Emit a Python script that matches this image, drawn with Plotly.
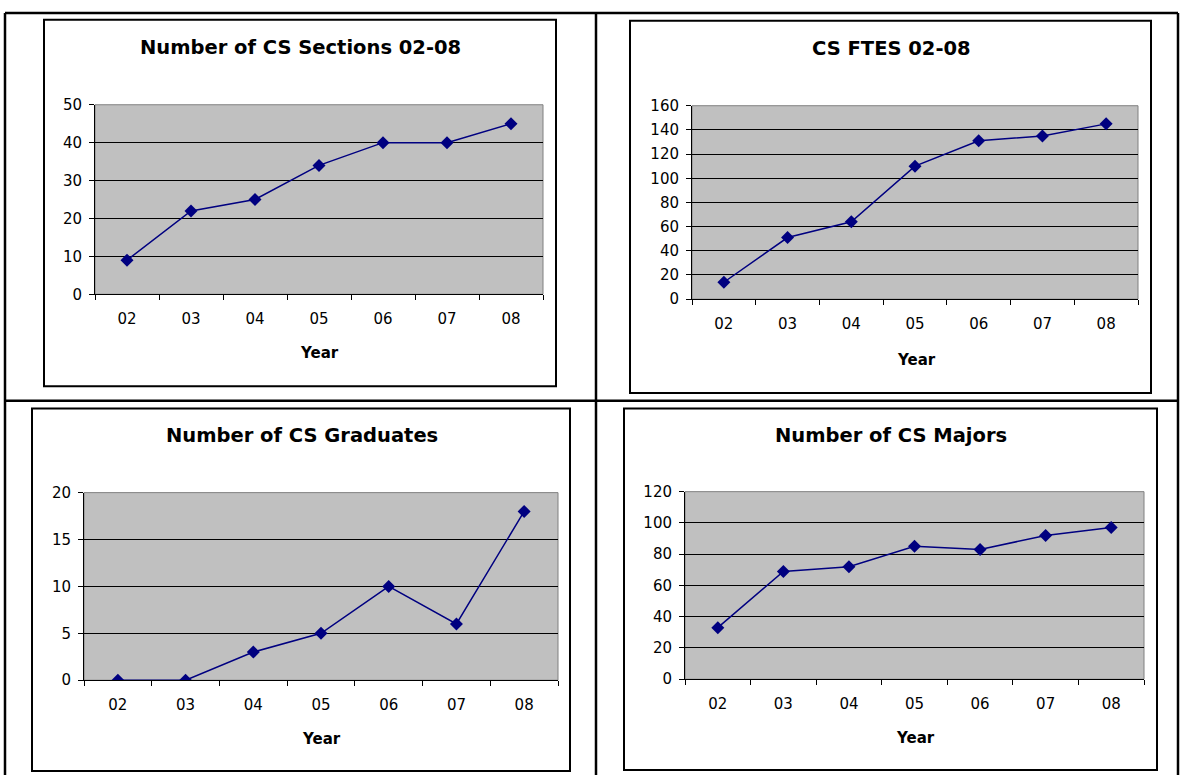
import plotly.graph_objects as go

# ---------------- data ----------------
years = ["02", "03", "04", "05", "06", "07", "08"]
sections = [9, 22, 25, 34, 40, 40, 45]
ftes = [14, 51, 64, 110, 131, 135, 145]
graduates = [0, 0, 3, 5, 10, 6, 18]
majors = [33, 69, 72, 85, 83, 92, 97]

chart_titles = ["Number of CS Sections 02-08", "CS FTES 02-08",
                "Number of CS Graduates", "Number of CS Majors"]
series = [sections, ftes, graduates, majors]
y_max = [50, 160, 20, 120]
y_step = [10, 20, 5, 20]
x_label = "Year"

# ---------------- layout (pixels) ----------------
W, H = 1180, 784
# plot areas: (left, top, right, bottom)
plot_boxes = [(95, 98, 543, 292), (692, 99, 1138, 297),
              (84, 495, 558, 687), (685, 494, 1144, 686)]
# chart frames
frames = [(44, 11, 556, 386), (630, 12, 1151, 393),
          (32, 409, 570, 780), (624, 409, 1157, 779)]
title_pos = [(300, 39), (891, 40), (302, 437), (891, 437)]
xlab_pos = [(319, 352), (916, 359), (322, 747), (915, 746)]

FONT = "DejaVu Sans"
NAVY = "#000080"


def px(x):
    return x / W


def py(y):
    return 1 - y / H


fig = go.Figure()
shapes = []
annotations = []
layout_axes = {}

for i in range(4):
    n = i + 1
    xa = "x" if n == 1 else f"x{n}"
    ya = "y" if n == 1 else f"y{n}"
    fig.add_trace(go.Scatter(
        x=years, y=series[i], xaxis=xa, yaxis=ya, mode="lines+markers",
        line=dict(color=NAVY, width=1.5),
        marker=dict(symbol="diamond", size=10, color=NAVY),
        showlegend=False, hoverinfo="x+y"))
    l, t, r, b = plot_boxes[i]
    xkey = "xaxis" if n == 1 else f"xaxis{n}"
    ykey = "yaxis" if n == 1 else f"yaxis{n}"
    layout_axes[xkey] = dict(
        domain=[px(l), px(r)], anchor=ya, type="category",
        range=[-0.5, len(years) - 0.5], tickson="boundaries",
        ticks="outside", ticklen=5, tickcolor="black", tickwidth=1,
        showgrid=False, zeroline=False, showline=True, linecolor="black",
        linewidth=1, tickfont=dict(family=FONT, size=15, color="black"),
        ticklabelstandoff=11, fixedrange=True)
    layout_axes[ykey] = dict(
        domain=[py(b), py(t)], anchor=xa, range=[0, y_max[i]],
        tick0=0, dtick=y_step[i], ticks="outside", ticklen=5,
        tickcolor="black", tickwidth=1, showgrid=True, gridcolor="black",
        gridwidth=1, zeroline=False, showline=True, linecolor="black",
        linewidth=1, tickfont=dict(family=FONT, size=15, color="black"),
        ticklabelstandoff=4, fixedrange=True)
    # grey plot-area border
    shapes.append(dict(type="rect", xref=f"{xa} domain", yref=f"{ya} domain",
                       x0=0, x1=1, y0=0, y1=1, layer="below",
                       line=dict(color="#808080", width=1)))
    # chart frame
    fl, ft, fr, fb = frames[i]
    shapes.append(dict(type="rect", xref="paper", yref="paper",
                       x0=px(fl), x1=px(fr), y0=py(fb), y1=py(ft),
                       line=dict(color="black", width=2)))
    annotations.append(dict(text=f"<b>{chart_titles[i]}</b>", xref="paper",
                            yref="paper", x=px(title_pos[i][0]),
                            y=py(title_pos[i][1]), showarrow=False,
                            xanchor="center", yanchor="middle",
                            font=dict(family=FONT, size=19.5, color="black")))
    annotations.append(dict(text=f"<b>{x_label}</b>", xref="paper",
                            yref="paper", x=px(xlab_pos[i][0]),
                            y=py(xlab_pos[i][1]), showarrow=False,
                            xanchor="center", yanchor="middle",
                            font=dict(family=FONT, size=15, color="black")))

# table lines (the table continues below the visible page)
table_lines = [((5, 4), (1178, 4)),
               ((5, 4), (5, 784)), ((1178, 4), (1178, 784)),
               ((596, 4), (596, 784)), ((5, 401), (1178, 401))]
for (x0, y0), (x1, y1) in table_lines:
    shapes.append(dict(type="line", xref="paper", yref="paper",
                       x0=px(x0), y0=py(y0), x1=px(x1), y1=py(y1),
                       line=dict(color="black", width=2.5)))

fig.update_layout(
    width=W, height=H, margin=dict(l=0, r=0, t=0, b=0),
    paper_bgcolor="white", plot_bgcolor="#C0C0C0",
    shapes=shapes, annotations=annotations, **layout_axes)

fig.write_html(
    "out.html", config={"displayModeBar": False},
    post_script=(
        "document.documentElement.style.margin='0';"
        "document.body.style.margin='0';"
        "document.body.style.overflow='hidden';"
        "var gd=document.getElementById('{plot_id}');"
        "gd.style.position='fixed';gd.style.left='0px';gd.style.top='0px';"
    ))
